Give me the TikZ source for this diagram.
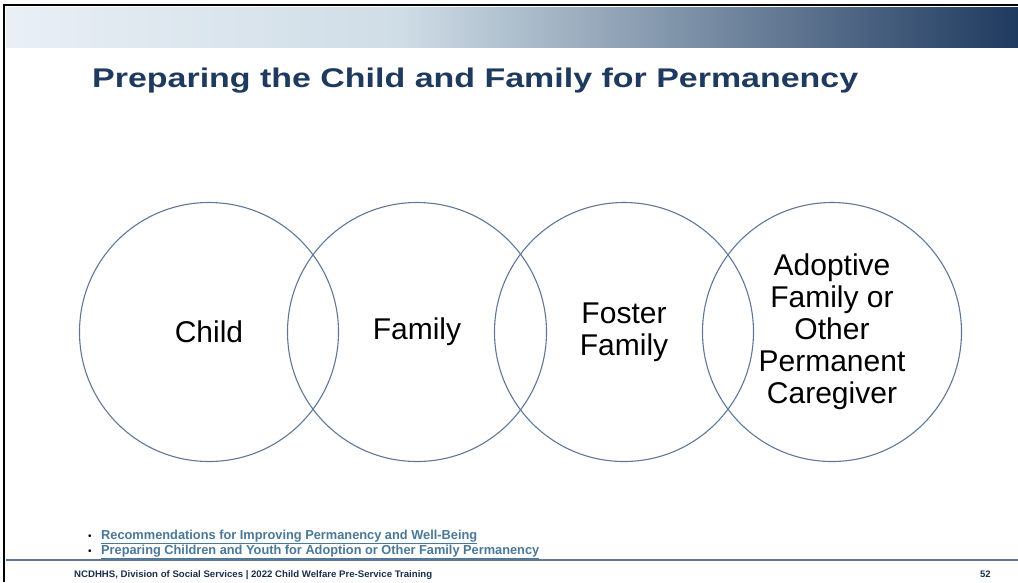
\documentclass[tikz,border=0pt]{standalone}
\usepackage{fontspec}
\usepackage{graphicx}
\setmainfont{Liberation Sans}
\definecolor{navy}{HTML}{1F3A5F}
\definecolor{bandlight}{HTML}{E9EFF5}
\definecolor{bandmid}{HTML}{CFDDE6}
\definecolor{ring}{HTML}{5F7896}
\definecolor{linkc}{HTML}{4A7898}
\definecolor{rule}{HTML}{5F7896}
\begin{document}
\begin{tikzpicture}[x=1pt,y=-1pt,
  ringstyle/.style={circle,draw=ring,line width=1.1pt,minimum size=259pt,inner sep=0pt},
  ringtext/.style={font=\fontsize{30}{32}\selectfont,align=center,text=black},
  linkstyle/.style={anchor=base west,inner sep=0pt,font=\fontsize{13}{15}\selectfont\bfseries,text=linkc},
  bulletstyle/.style={anchor=base west,inner sep=0pt,font=\fontsize{10}{12}\selectfont,text=black},
  footstyle/.style={anchor=base west,inner sep=0pt,font=\fontsize{9.5}{11}\selectfont\bfseries,text=navy!80!black}]
\useasboundingbox (0,0) rectangle (1018,582);
\fill[white] (0,0) rectangle (1018,582);
% band
\shade[left color=bandlight,right color=bandmid] (6,7) rectangle (400,47);
\shade[left color=bandmid,right color=navy] (400,7) rectangle (1018,47);
% frame
\draw[black,line width=2.2pt] (4,582) -- (4,5) -- (1018,5);
% title
\node[anchor=base west,inner sep=0pt,text=navy,font=\fontsize{27}{30}\selectfont\bfseries] (title) at (92,87) {\resizebox{766pt}{\height}{Preparing the Child and Family for Permanency}};
% circles
\node[ringstyle] (c1) at (209,332) {};
\node[ringstyle] (c2) at (417,332) {};
\node[ringstyle] (c3) at (624,332) {};
\node[ringstyle] (c4) at (832,332) {};
\node[ringtext] (t1) at (c1) {Child};
\node[ringtext] (t2) at (c2) {Family};
\node[ringtext] (t3) at (c3) {Foster\\Family};
\node[ringtext] (t4) at (c4) {Adoptive\\Family or\\Other\\Permanent\\Caregiver};
% links
\node[bulletstyle] (d1) at (88,539) {\textbullet};
\node[bulletstyle] (d2) at (88,554) {\textbullet};
\node[linkstyle] (b1) at (101,539) {\resizebox{376pt}{\height}{\underline{Recommendations for Improving Permanency and Well-Being}}};
\node[linkstyle] (b2) at (101,554) {\resizebox{438pt}{\height}{\underline{Preparing Children and Youth for Adoption or Other Family Permanency}}};
% footer rule
\draw[rule,line width=1.5pt] (6,560) -- (1018,560);
\node[footstyle] (foot) at (74,577) {\resizebox{358pt}{\height}{NCDHHS, Division of Social Services | 2022 Child Welfare Pre-Service Training}};
\node[footstyle] (num) at (980,577) {52};
\end{tikzpicture}
\end{document}
